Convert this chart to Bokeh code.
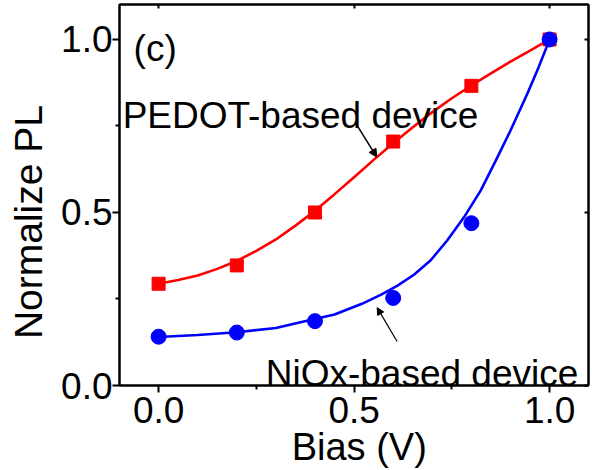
from bokeh.plotting import figure
from bokeh.models import (LinearAxis, Range1d, Label, Arrow, NormalHead,
                          FixedTicker, PrintfTickFormatter)
from bokeh.embed import file_html
from bokeh.resources import INLINE

# measured data points
bias = [0.0, 0.2, 0.4, 0.6, 0.8, 1.0]
pedot_pl = [0.294, 0.347, 0.500, 0.705, 0.866, 1.0]
niox_pl = [0.141, 0.153, 0.186, 0.253, 0.469, 1.0]

# fitted curves
pedot_fit_x = [0.0, 0.05, 0.1, 0.15, 0.2, 0.25, 0.3, 0.35, 0.4, 0.45, 0.5,
               0.55, 0.6, 0.65, 0.7, 0.75, 0.8, 0.85, 0.9, 0.95, 1.0]
pedot_fit_y = [0.294, 0.305, 0.318, 0.337, 0.360, 0.389, 0.422, 0.462, 0.505,
               0.553, 0.602, 0.652, 0.700, 0.746, 0.790, 0.830, 0.867, 0.902,
               0.936, 0.968, 1.0]
niox_fit_x = [0.0, 0.1, 0.2, 0.3, 0.363, 0.45, 0.52, 0.568, 0.61, 0.653, 0.696,
              0.738, 0.781, 0.824, 0.862, 0.9, 0.943, 0.972, 1.0]
niox_fit_y = [0.140, 0.146, 0.154, 0.166, 0.183, 0.205, 0.236, 0.262, 0.288,
              0.320, 0.362, 0.419, 0.486, 0.564, 0.649, 0.737, 0.843, 0.920, 1.0]

x_ticks = [0.0, 0.5, 1.0]
x_minor = [0.25, 0.75]
y_ticks = [0.0, 0.5, 1.0]
y_minor = [0.25, 0.75]

FONT = "Liberation Sans"
RED = "#ff0000"
BLUE = "#0000ff"

p = figure(frame_width=469, frame_height=381, output_backend="svg",
           toolbar_location=None,
           x_range=Range1d(-0.1, 1.0995), y_range=Range1d(0, 1.101),
           min_border_left=119, min_border_right=4, min_border_top=4,
           min_border_bottom=85)
p.grid.visible = False
p.outline_line_color = "black"
p.outline_line_width = 2
p.background_fill_color = "white"
p.border_fill_color = "white"

fmt = PrintfTickFormatter(format="%.1f")
p.xaxis.ticker = FixedTicker(ticks=x_ticks, minor_ticks=x_minor)
p.yaxis.ticker = FixedTicker(ticks=y_ticks, minor_ticks=y_minor)
p.xaxis.formatter = fmt
p.yaxis.formatter = fmt
for ax in (p.xaxis[0], p.yaxis[0]):
    ax.axis_line_width = 2
    ax.major_tick_line_width = 2
    ax.minor_tick_line_width = 2
    ax.major_tick_out = 7
    ax.major_tick_in = 0
    ax.minor_tick_out = 4
    ax.minor_tick_in = 0
    ax.major_label_text_font = FONT
    ax.major_label_text_font_size = "37px"
    ax.major_label_text_color = "black"
    ax.axis_label_text_font = FONT
    ax.axis_label_text_font_style = "normal"
    ax.axis_label_text_color = "black"
p.xaxis.major_label_standoff = 4
p.yaxis.major_label_standoff = 0
p.xaxis.axis_label = "\u00a0Bias (V)"
p.xaxis.axis_label_text_font_size = "38px"
p.xaxis.axis_label_standoff = 0
p.yaxis.axis_label = "Normalize PL\u00a0\u00a0\u00a0\u00a0\u00a0"
p.yaxis.axis_label_text_font_size = "39px"
p.yaxis.axis_label_standoff = 8

top = LinearAxis(ticker=FixedTicker(ticks=x_ticks, minor_ticks=x_minor))
right = LinearAxis(ticker=FixedTicker(ticks=y_ticks, minor_ticks=y_minor))
for ax in (top, right):
    ax.axis_line_width = 2
    ax.major_tick_line_width = 2
    ax.minor_tick_line_width = 2
    ax.major_tick_in = 4
    ax.major_tick_out = 0
    ax.minor_tick_in = 0
    ax.minor_tick_out = 0
    ax.major_label_overrides = {0: "", 0.5: "", 1: ""}
    ax.major_label_standoff = 0
p.add_layout(top, "above")
p.add_layout(right, "right")

# curves
p.line(pedot_fit_x, pedot_fit_y, line_color=RED, line_width=2.6)
p.line(niox_fit_x, niox_fit_y, line_color=BLUE, line_width=2.6)
p.scatter(bias, pedot_pl, marker="square", size=13, fill_color=RED, line_color=RED)
p.scatter(bias, niox_pl, marker="circle", size=15, fill_color=BLUE, line_color=BLUE)

# texts
def lab(x, y, text):
    return Label(x=x, y=y, text=text, text_font=FONT, text_font_size="37px",
                 text_align="left", text_baseline="alphabetic",
                 text_color="black")

p.add_layout(lab(-0.064, 0.974, "(c)"))
p.add_layout(lab(-0.092, 0.780, "PEDOT-based device"))
p.add_layout(lab(0.274, 0.035, "NiOx-based device"))

# arrows
p.add_layout(Arrow(x_start=0.504, y_start=0.758, x_end=0.558, y_end=0.660,
                   line_width=1.5, line_color="black",
                   end=NormalHead(size=8, fill_color="black", line_color="black")))
p.add_layout(Arrow(x_start=0.610, y_start=0.127, x_end=0.559, y_end=0.225,
                   line_width=1.2, line_color="black",
                   end=NormalHead(size=7, fill_color="black", line_color="black")))

open("out.html", "w").write(file_html(p, INLINE))
